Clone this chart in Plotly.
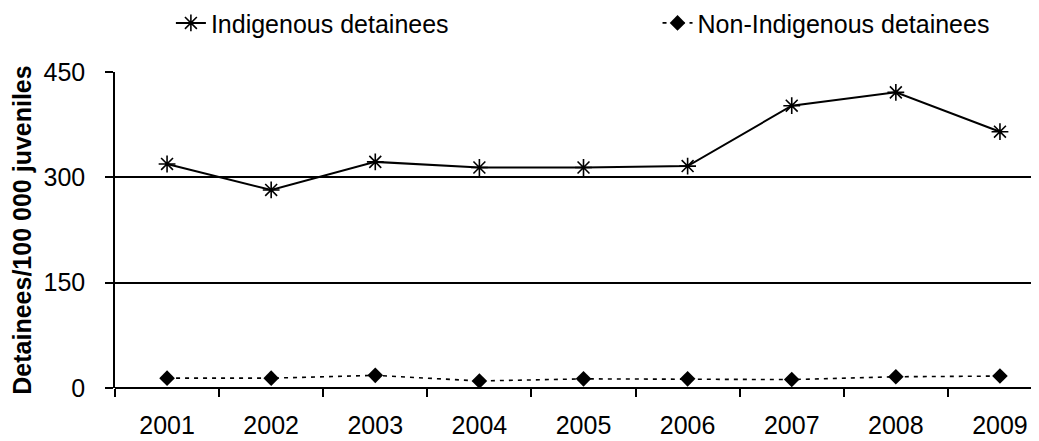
import plotly.graph_objects as go

years = ["2001", "2002", "2003", "2004", "2005", "2006", "2007", "2008", "2009"]
indigenous = [319, 282, 322, 314, 314, 316, 402, 421, 365]
non_indigenous = [14, 14, 18, 10, 13, 13, 12, 16, 17]
y_ticks = [0, 150, 300, 450]

FONT = "Liberation Sans, Arial, sans-serif"

fig = go.Figure()
fig.add_trace(go.Scatter(
    x=years, y=indigenous, name="Indigenous detainees", mode="lines+markers",
    line=dict(color="black", width=2),
    marker=dict(symbol="asterisk-open", size=14, color="black", line=dict(color="black", width=1.6)),
    legend="legend",
))
fig.add_trace(go.Scatter(
    x=years, y=non_indigenous, name="Non-Indigenous detainees", mode="lines+markers",
    line=dict(color="black", width=1.6, dash="4px,5px"),
    marker=dict(symbol="diamond", size=12, color="black"),
    legend="legend2",
))

# the page adds an 8px body margin, so the figure is drawn 8px smaller/shifted
fig.update_layout(
    width=1031, height=433,
    margin=dict(l=107, r=0, t=64, b=53, autoexpand=False),
    paper_bgcolor="white", plot_bgcolor="white",
    font=dict(family=FONT, size=25, color="black"),
    showlegend=True,
    legend=dict(orientation="h", xref="container", yref="container", x=0.158, y=0.965,
                xanchor="left", yanchor="middle", font=dict(size=25), bgcolor="rgba(0,0,0,0)"),
    legend2=dict(orientation="h", xref="container", yref="container", x=0.630, y=0.965,
                 xanchor="left", yanchor="middle", font=dict(size=25), bgcolor="rgba(0,0,0,0)"),
    xaxis=dict(
        type="category", range=[-0.5, 8.375], tickson="boundaries",
        ticks="outside", ticklen=8, tickwidth=1.5, tickcolor="black",
        showline=False, showgrid=False, zeroline=False, automargin=False,
        tickfont=dict(size=25), ticklabelstandoff=20, fixedrange=True,
    ),
    yaxis=dict(
        range=[0, 450], tickvals=y_ticks, ticks="outside", ticklen=8, tickwidth=1.5,
        tickcolor="black", showline=True, linecolor="black", linewidth=1.5,
        showgrid=True, gridcolor="black", gridwidth=1.5, automargin=False,
        zeroline=True, zerolinecolor="black", zerolinewidth=1.5,
        tickfont=dict(size=25), ticklabelstandoff=15,
        title=dict(text="<b>Detainees/100 000 juveniles</b>", font=dict(size=25), standoff=18),
    ),
)

fig.write_html("out.html")
